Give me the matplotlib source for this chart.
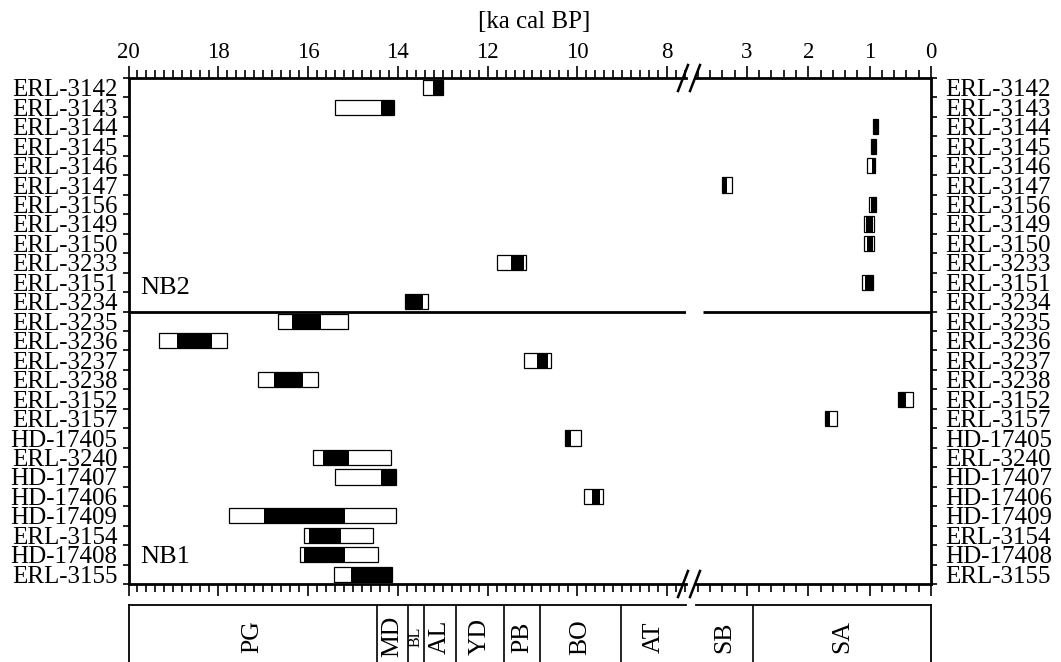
"""Calibrated age ranges of the NB2 / NB1 samples on a broken time axis."""

import matplotlib

matplotlib.use("Agg")

import matplotlib.pyplot as plt
from matplotlib.lines import Line2D
from matplotlib.ticker import FixedLocator, MultipleLocator, NullFormatter

plt.rcParams["font.family"] = ["Liberation Serif", "DejaVu Serif"]

SAMPLES = [
    "ERL-3142", "ERL-3143", "ERL-3144", "ERL-3145", "ERL-3146", "ERL-3147",
    "ERL-3156", "ERL-3149", "ERL-3150", "ERL-3233", "ERL-3151", "ERL-3234",
    "ERL-3235", "ERL-3236", "ERL-3237", "ERL-3238", "ERL-3152", "ERL-3157",
    "HD-17405", "ERL-3240", "HD-17407", "HD-17406", "HD-17409", "ERL-3154",
    "HD-17408", "ERL-3155",
]

# ka cal BP, 2 sigma range (white box) and 1 sigma range (black box)
SIGMA2_OLD = [13.44, 15.41, 0.95, 0.98, 1.04, 3.40, 1.01, 1.09, 1.09, 11.78, 1.13, 13.85,
              16.67, 19.31, 11.19, 17.11, 0.54, 1.72, 10.28, 15.90, 15.41, 9.85, 17.75,
              16.08, 16.19, 15.43]
SIGMA2_YOUNG = [13.00, 14.08, 0.87, 0.89, 0.91, 3.24, 0.89, 0.93, 0.93, 11.14, 0.95, 13.32,
                15.11, 17.80, 10.59, 15.78, 0.29, 1.53, 9.91, 14.16, 14.05, 9.43, 14.04,
                14.56, 14.45, 14.13]
SIGMA1_OLD = [13.21, 14.37, 0.94, 0.96, 0.96, 3.40, 0.98, 1.06, 1.05, 11.47, 1.07, 13.85,
              16.36, 18.92, 10.90, 16.75, 0.54, 1.71, 10.27, 15.66, 14.38, 9.67, 16.99,
              15.98, 16.08, 15.05]
SIGMA1_YOUNG = [13.00, 14.08, 0.87, 0.89, 0.91, 3.33, 0.89, 0.94, 0.95, 11.20, 0.95, 13.43,
                15.71, 18.14, 10.65, 16.11, 0.41, 1.64, 10.15, 15.09, 14.05, 9.49, 15.17,
                15.27, 15.17, 14.13]

NB_SPLIT = 12  # first NB1 row
SITE_LABELS = ["NB2", "NB1"]
SITE_ROWS = [10.8, 24.6]

ZONE_NAMES = ["PG", "MD", "BL", "AL", "YD", "PB", "BO", "AT", "SB", "SA"]
ZONE_OLD = [20.0, 14.47, 13.78, 13.41, 12.71, 11.64, 10.83, 9.03, 3.83, 2.90]
ZONE_YOUNG = [14.47, 13.78, 13.41, 12.71, 11.64, 10.83, 9.03, 7.58, 2.90, 0.0]

LEFT_LIM = (20.0, 7.58)
RIGHT_LIM = (3.83, 0.0)

W, H = 1061, 662


def _rect(x0, y0, x1, y1):
    return [x0 / W, 1 - y1 / H, (x1 - x0) / W, (y1 - y0) / H]


def _style_main(ax, xlim, major, side):
    n = len(SAMPLES)
    rows = [i + 0.5 for i in range(n)]
    w2 = [o - y for o, y in zip(SIGMA2_OLD, SIGMA2_YOUNG)]
    w1 = [o - y for o, y in zip(SIGMA1_OLD, SIGMA1_YOUNG)]
    ax.barh(rows, w2, left=SIGMA2_YOUNG, height=0.78, color="white",
            edgecolor="black", linewidth=0.9)
    ax.barh(rows, w1, left=SIGMA1_YOUNG, height=0.78, color="black", linewidth=0)

    ax.set_xlim(*xlim)
    ax.set_ylim(n, 0)
    ax.xaxis.set_major_locator(MultipleLocator(major))
    ax.xaxis.set_minor_locator(MultipleLocator(0.2))
    ax.tick_params(axis="x", which="both", top=True, bottom=True, labeltop=True,
                   labelbottom=False, direction="out", width=1.2, labelsize=16.5, pad=2.5)
    ax.tick_params(axis="x", which="major", length=8.5)
    ax.tick_params(axis="x", which="minor", length=5.5)

    ax.yaxis.set_major_locator(FixedLocator(range(n + 1)))
    ax.yaxis.set_major_formatter(NullFormatter())
    ax.yaxis.set_minor_locator(FixedLocator(rows))
    ax.set_yticklabels(SAMPLES, minor=True)
    if side == "right":
        ax.yaxis.tick_right()
    ax.tick_params(axis="y", which="major", length=4, width=1.2, direction="out")
    ax.tick_params(axis="y", which="minor", length=0, labelsize=18,
                   pad=8 if side == "left" else 10)

    for name, sp in ax.spines.items():
        sp.set_linewidth(2)
    ax.spines["right" if side == "left" else "left"].set_visible(False)


def _style_zone(ax, xlim, side):
    lo, hi = min(xlim), max(xlim)
    ax.set_xlim(*xlim)
    ax.set_ylim(0, 1)
    ax.set_xticks([])
    ax.set_yticks([])
    for name, sp in ax.spines.items():
        sp.set_linewidth(1.3)
    ax.spines["right" if side == "left" else "left"].set_visible(False)
    for name, old, young in zip(ZONE_NAMES, ZONE_OLD, ZONE_YOUNG):
        if not (lo <= young and old <= hi):
            continue
        if lo < old < hi:
            ax.axvline(old, color="black", lw=1.2)
        ax.text((old + young) / 2, 0.665, name, rotation=90, ha="center", va="center",
                fontsize=11.5 if name == "BL" else 18.5)


def _break_marks(fig, y_px):
    for cx in (683, 695):
        fig.add_artist(Line2D([(cx - 5) / W, (cx + 5) / W],
                              [1 - (y_px + 13) / H, 1 - (y_px - 13) / H],
                              transform=fig.transFigure, color="black", lw=1.8))


def main() -> None:
    fig = plt.figure(figsize=(W / 100, H / 100), dpi=100)
    ax_l = fig.add_axes(_rect(128.5, 78, 686, 584))
    ax_r = fig.add_axes(_rect(696, 78, 931, 584))
    zone_l = fig.add_axes(_rect(128.5, 605, 686, 700))
    zone_r = fig.add_axes(_rect(696, 605, 931, 700))

    _style_main(ax_l, LEFT_LIM, 2, "left")
    _style_main(ax_r, RIGHT_LIM, 1, "right")
    _style_zone(zone_l, LEFT_LIM, "left")
    _style_zone(zone_r, RIGHT_LIM, "right")

    ax_l.axhline(NB_SPLIT, color="black", lw=2)
    ax_r.hlines(NB_SPLIT, 3.71, 0, color="black", lw=2)

    for label, row in zip(SITE_LABELS, SITE_ROWS):
        ax_l.text(19.75, row, label, ha="left", va="center", fontsize=19)

    _break_marks(fig, 78)
    _break_marks(fig, 584)
    fig.text(533.7 / W, 1 - 22 / H, "[ka cal BP]", ha="center", va="center", fontsize=18)

    fig.savefig("out.png", dpi=100)
    plt.close(fig)


if __name__ == "__main__":
    main()
